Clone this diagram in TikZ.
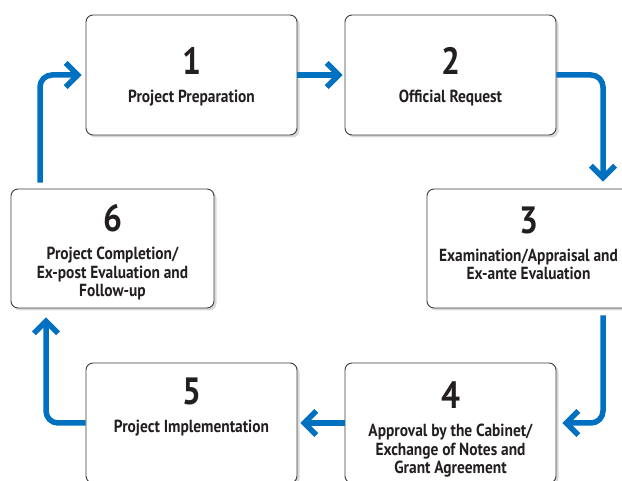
\documentclass[tikz,border=0pt]{standalone}
\usepackage{fontspec}
\setmainfont{PT Sans}[FakeStretch=0.88]
\usetikzlibrary{arrows.meta,positioning,shadows}
\definecolor{flowblue}{RGB}{0,112,192}
\definecolor{boxline}{RGB}{60,60,60}
\definecolor{inkdark}{RGB}{35,31,32}
\newcommand\stagenum[1]{{\fontsize{38}{38}\selectfont #1}\\[9.5pt]}

\begin{document}
\begin{tikzpicture}
[x=1pt,y=-1pt,
stage/.style ={rectangle, draw=boxline, line width=0.9pt, fill=white,
rounded corners=7pt, minimum width=211pt, minimum height=120pt,
drop shadow={shadow xshift=2.5pt,shadow yshift=-2.5pt,opacity=0.3}},
stagetext/.style ={anchor=north, align=center, inner sep=0pt,
text=inkdark, font=\bfseries\fontsize{17.5}{18.5}\selectfont},
line/.style ={draw=flowblue, line width=5.5pt, rounded corners=12pt,
-{Straight Barb[length=12pt,width=24pt]}, shorten >=4pt}]
\useasboundingbox (0,0) rectangle (622,481);
% top row
\node [stage] (prep)    at (191.5,75) {};
\node [stage] (request) at (450.5,75) {};
% middle row
\node [stage, minimum width=203pt, minimum height=119pt] (complete) at (112.5,248.5) {};
\node [stage, minimum height=119pt] (exam) at (532.5,248.5) {};
% bottom row
\node [stage] (implement) at (191.5,423) {};
\node [stage] (approval)  at (450.5,423) {};
% texts
\node [stagetext] (prep-t)      at ([yshift=-33pt]prep.north) {\stagenum{1}Project Preparation};
\node [stagetext] (request-t)   at ([yshift=-33pt]request.north) {\stagenum{2}Official Request};
\node [stagetext] (exam-t)      at ([xshift=-4pt,yshift=-18pt]exam.north)
  {\stagenum{3}Examination/Appraisal and\\Ex-ante Evaluation};
\node [stagetext] (approval-t)  at ([yshift=-19pt]approval.north)
  {\stagenum{4}Approval by the Cabinet/\\Exchange of Notes and\\Grant Agreement};
\node [stagetext] (implement-t) at ([yshift=-15pt]implement.north) {\stagenum{5}Project Implementation};
\node [stagetext] (complete-t)  at ([yshift=-16pt]complete.north)
  {\stagenum{6}Project Completion/\\Ex-post Evaluation and\\Follow-up};
\begin{scope}[every path/.style=line]
\path [shorten >=2pt] (prep) -- (request);
\path [shorten >=7pt] (request.east) -| ([xshift=70.5pt]exam.north);
\path [shorten <=7pt, shorten >=6pt] ([xshift=70.5pt]exam.south) |- (approval.east);
\path [shorten >=3pt] (approval) -- (implement);
\path [shorten >=9pt] (implement.west) -| ([xshift=-66.5pt]complete.south);
\path [shorten <=6pt] ([xshift=-72.5pt]complete.north) |- (prep.west);
\end{scope}
\end{tikzpicture}
\end{document}
